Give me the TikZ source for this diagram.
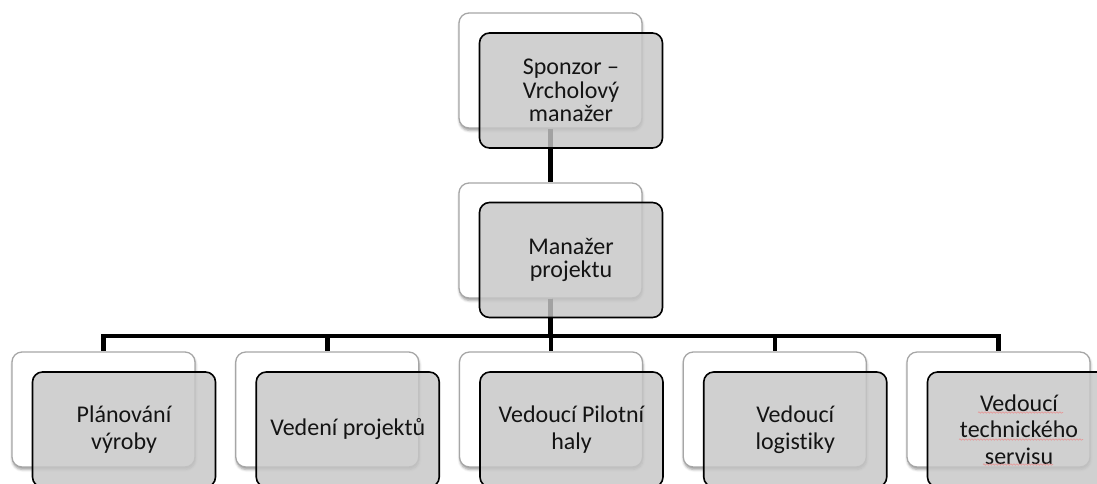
\documentclass[tikz,border=0pt]{standalone}
\usepackage{fontspec}
\setmainfont{Carlito}[Ligatures={TeX,NoCommon}]
\usetikzlibrary{shadows.blur,decorations.pathmorphing}
\definecolor{boxgray}{HTML}{C6C6C6}
\definecolor{squiggle}{HTML}{E59A9A}
\begin{document}
\begin{tikzpicture}[x=1pt,y=-1pt,
  backbox/.style={draw=black!35,line width=1.3pt,fill=white,rounded corners=10pt,
    minimum width=183pt,minimum height=115pt,inner sep=0pt,
    blur shadow={shadow xshift=0.5pt,shadow yshift=-2.5pt,shadow blur radius=2.5pt,shadow opacity=40}},
  frontbox/.style={draw=black,line width=1.6pt,fill=boxgray,fill opacity=0.82,text opacity=1,
    rounded corners=10pt,minimum width=183pt,minimum height=115pt,inner sep=0pt,
    align=center,text=black!92},
  upper/.style={frontbox,font=\fontsize{24}{23.5}\selectfont},
  lower/.style={frontbox,font=\fontsize{24}{26.5}\selectfont},
  link/.style={line width=4.5pt,line join=miter,draw=black},
  spell/.style={draw=squiggle,line width=0.7pt,decorate,
    decoration={snake,amplitude=0.7pt,segment length=3pt}}
]
\useasboundingbox (0,0) rectangle (1097,483);
\clip (0,0) rectangle (1097,483);

% shadow cards behind each position
\node[backbox] (b0) at (550.5,70.5) {};
\node[backbox] (b1) at (550.5,240.5) {};
\node[backbox] (c1) at (103.5,409.5) {};
\node[backbox] (c2) at (327.25,409.5) {};
\node[backbox] (c3) at (551,409.5) {};
\node[backbox] (c4) at (774.75,409.5) {};
\node[backbox] (c5) at (998.5,409.5) {};

% hierarchy connectors
\coordinate (bar) at (550.5,336);
\draw[link] (b0.south) -- (b1.north);
\foreach \c in {c1,c2,c3,c4,c5}
  \draw[link] (b1.south) -- (b1.south |- bar) -| (\c.north);

% labelled cards
\node[upper] (f0) at (571,90.5) {Sponzor –\\Vrcholový\\manažer};
\node[upper] (f1) at (571,260) {Manažer\\projektu};
\node[lower] (g1) at (124,429.5) {Plánování\\výroby};
\node[lower] (g2) at (347.75,429.5) {Vedení projektů};
\node[lower] (g3) at (571.5,429.5) {Vedoucí Pilotní\\haly};
\node[lower] (g4) at (795.25,429.5) {Vedoucí\\logistiky};
\node[lower] (g5) at (1019,429.5) {Vedoucí\\technického\\servisu};

% spell-check underlines
\draw[spell] (978,412.5) -- (1063,412.5);
\draw[spell] (959,439.5) -- (1083,439.5);
\draw[spell] (983,464.5) -- (1053,464.5);
\end{tikzpicture}
\end{document}
